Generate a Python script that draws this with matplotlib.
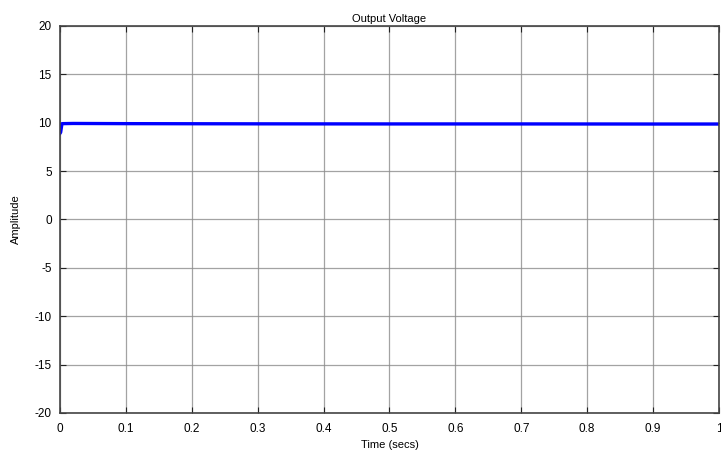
import numpy as np
import matplotlib
matplotlib.use('Agg')
import matplotlib.pyplot as plt

# output voltage
t = [0.0, 0.001, 0.003, 0.02, 0.1, 0.3, 0.5, 0.7, 0.9, 1.0]
v = [8.9, 9.0, 9.9, 9.92, 9.9, 9.88, 9.87, 9.87, 9.86, 9.86]

x_ticks = [0, 0.1, 0.2, 0.3, 0.4, 0.5, 0.6, 0.7, 0.8, 0.9, 1]
x_labels = ['0', '0.1', '0.2', '0.3', '0.4', '0.5', '0.6', '0.7', '0.8', '0.9', '1']
y_ticks = [-20, -15, -10, -5, 0, 5, 10, 15, 20]

plt.rcParams['font.family'] = ['Liberation Sans', 'DejaVu Sans']
plt.rcParams['axes.unicode_minus'] = False

fig = plt.figure(figsize=(7.21, 4.57), dpi=100)
ax = fig.add_axes([0.0832, 0.0963, 0.914, 0.847])

ax.plot(t, v, color='#0000ff', linewidth=2.4)

ax.set_xlim(0, 1)
ax.set_ylim(-20, 20)
ax.set_xticks(x_ticks)
ax.set_xticklabels(x_labels)
ax.set_yticks(y_ticks)
ax.grid(True, color='#8c8c8c', linewidth=0.9, alpha=0.8)
ax.tick_params(direction='in', length=4, labelsize=8.5, color='#222222',
               top=True, right=True)
ax.tick_params(axis='x', pad=7)
ax.tick_params(axis='y', pad=6)
for s in ax.spines.values():
    s.set_color('#444444')
    s.set_linewidth(1.2)

ax.set_title('Output Voltage', fontsize=8, pad=3)
ax.set_xlabel('Time (secs)', fontsize=8, labelpad=4)
ax.set_ylabel('Amplitude', fontsize=8, labelpad=10)

fig.savefig('out.png', dpi=100)
